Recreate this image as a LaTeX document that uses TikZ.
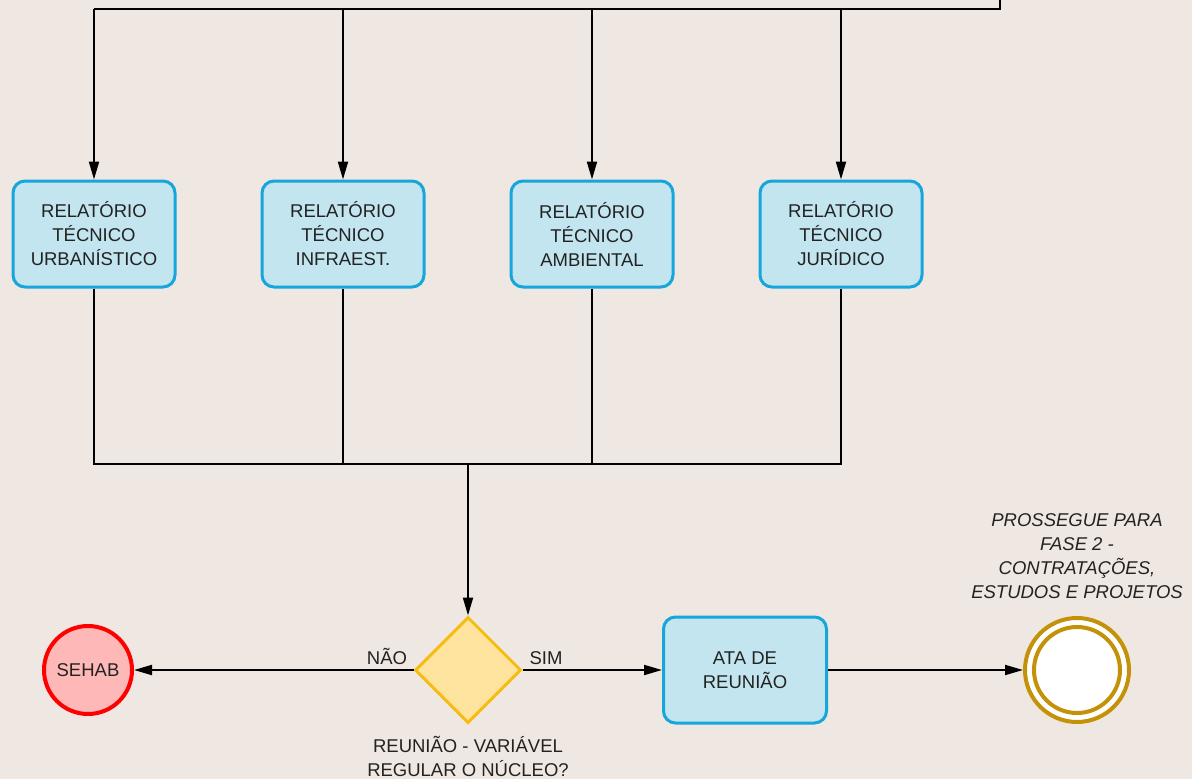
\documentclass[tikz,border=0pt]{standalone}
\usepackage{fontspec}
\setmainfont{Liberation Sans}
\usetikzlibrary{arrows.meta,shapes.geometric}
\definecolor{bgpaper}{RGB}{239,231,225}
\definecolor{taskfill}{RGB}{194,229,239}
\definecolor{taskline}{RGB}{22,166,219}
\definecolor{gatefill}{RGB}{255,228,160}
\definecolor{gateline}{RGB}{247,188,18}
\definecolor{stopfill}{RGB}{255,184,184}
\definecolor{stopline}{RGB}{255,0,0}
\definecolor{endline}{RGB}{196,146,8}
\definecolor{inkgray}{RGB}{34,34,34}
\begin{document}
\begin{tikzpicture}[x=1pt,y=-1pt,
  txt/.style={font=\fontsize{18.5}{24}\selectfont, text=inkgray, align=center},
  taskbox/.style={txt, draw=taskline, fill=taskfill, line width=3pt, rounded corners=12pt,
    minimum width=162pt, minimum height=106pt, inner sep=0pt},
  gate/.style={diamond, draw=gateline, fill=gatefill, line width=3pt, minimum width=106pt,
    minimum height=106pt, inner sep=0pt, aspect=1},
  stopev/.style={circle, txt, draw=stopline, fill=stopfill, line width=4pt, minimum size=88pt, inner sep=0pt},
  endev/.style={circle, draw=endline, fill=white, line width=4pt, minimum size=104pt, inner sep=0pt},
  endin/.style={circle, draw=endline, fill=white, line width=4pt, minimum size=86pt, inner sep=0pt},
  flow/.style={line width=2pt, black},
  arr/.style={flow, -{Triangle[length=18pt,width=10pt]}},
  lbl/.style={txt}
]
\fill[bgpaper] (0,0) rectangle (1192,779);
\useasboundingbox (0,0) rectangle (1192,779);

% report boxes
\node[taskbox] (b1) at (94,234)  {RELATÓRIO\\TÉCNICO\\URBANÍSTICO};
\node[taskbox] (b2) at (343,234) {RELATÓRIO\\TÉCNICO\\INFRAEST.};
\node[taskbox] (b3) at (592,234) {RELATÓRIO\\TÉCNICO\\AMBIENTAL};
\node[taskbox] (b4) at (841,234) {RELATÓRIO\\TÉCNICO\\JURÍDICO};

% incoming bus from above
\coordinate (top) at (1000,0);
\coordinate (bus) at (1000,9);
\draw[flow] (top) -- (bus) -- (b1 |- bus);
\foreach \b in {b1,b2,b3,b4}
  \draw[arr] (\b |- bus) -- (\b.north);

% decision
\node[gate] (dec) at (468,670) {};
\node[lbl, anchor=north] (declbl) at (468,733) {REUNIÃO - VARIÁVEL\\REGULAR O NÚCLEO?};

% merging bus below
\coordinate (join) at (468,464);
\foreach \b in {b1,b2,b3,b4}
  \draw[flow] (\b.south) |- (join);
\draw[arr] (join) -- (dec.north);

% outcomes
\node[stopev] (sehab) at (88,670) {SEHAB};
\node[taskbox, minimum width=163pt] (ata) at (745,670) {ATA DE\\REUNIÃO};
\node[endev] (fim) at (1077,670) {};
\node[endin] (fimin) at (1077,670) {};
\node[lbl, font=\fontsize{18.5}{24}\selectfont\itshape] (fimlbl) at (1077,556)
  {PROSSEGUE PARA\\FASE 2 -\\CONTRATAÇÕES,\\ESTUDOS E PROJETOS};

\draw[arr] (dec.west) -- (sehab.east);
\draw[arr] (dec.east) -- (ata.west);
\draw[arr] (ata.east) -- (fim.west);

\node[lbl, anchor=base] (nao) at (387,664) {NÃO};
\node[lbl, anchor=base] (sim) at (546,664) {SIM};
\end{tikzpicture}
\end{document}
